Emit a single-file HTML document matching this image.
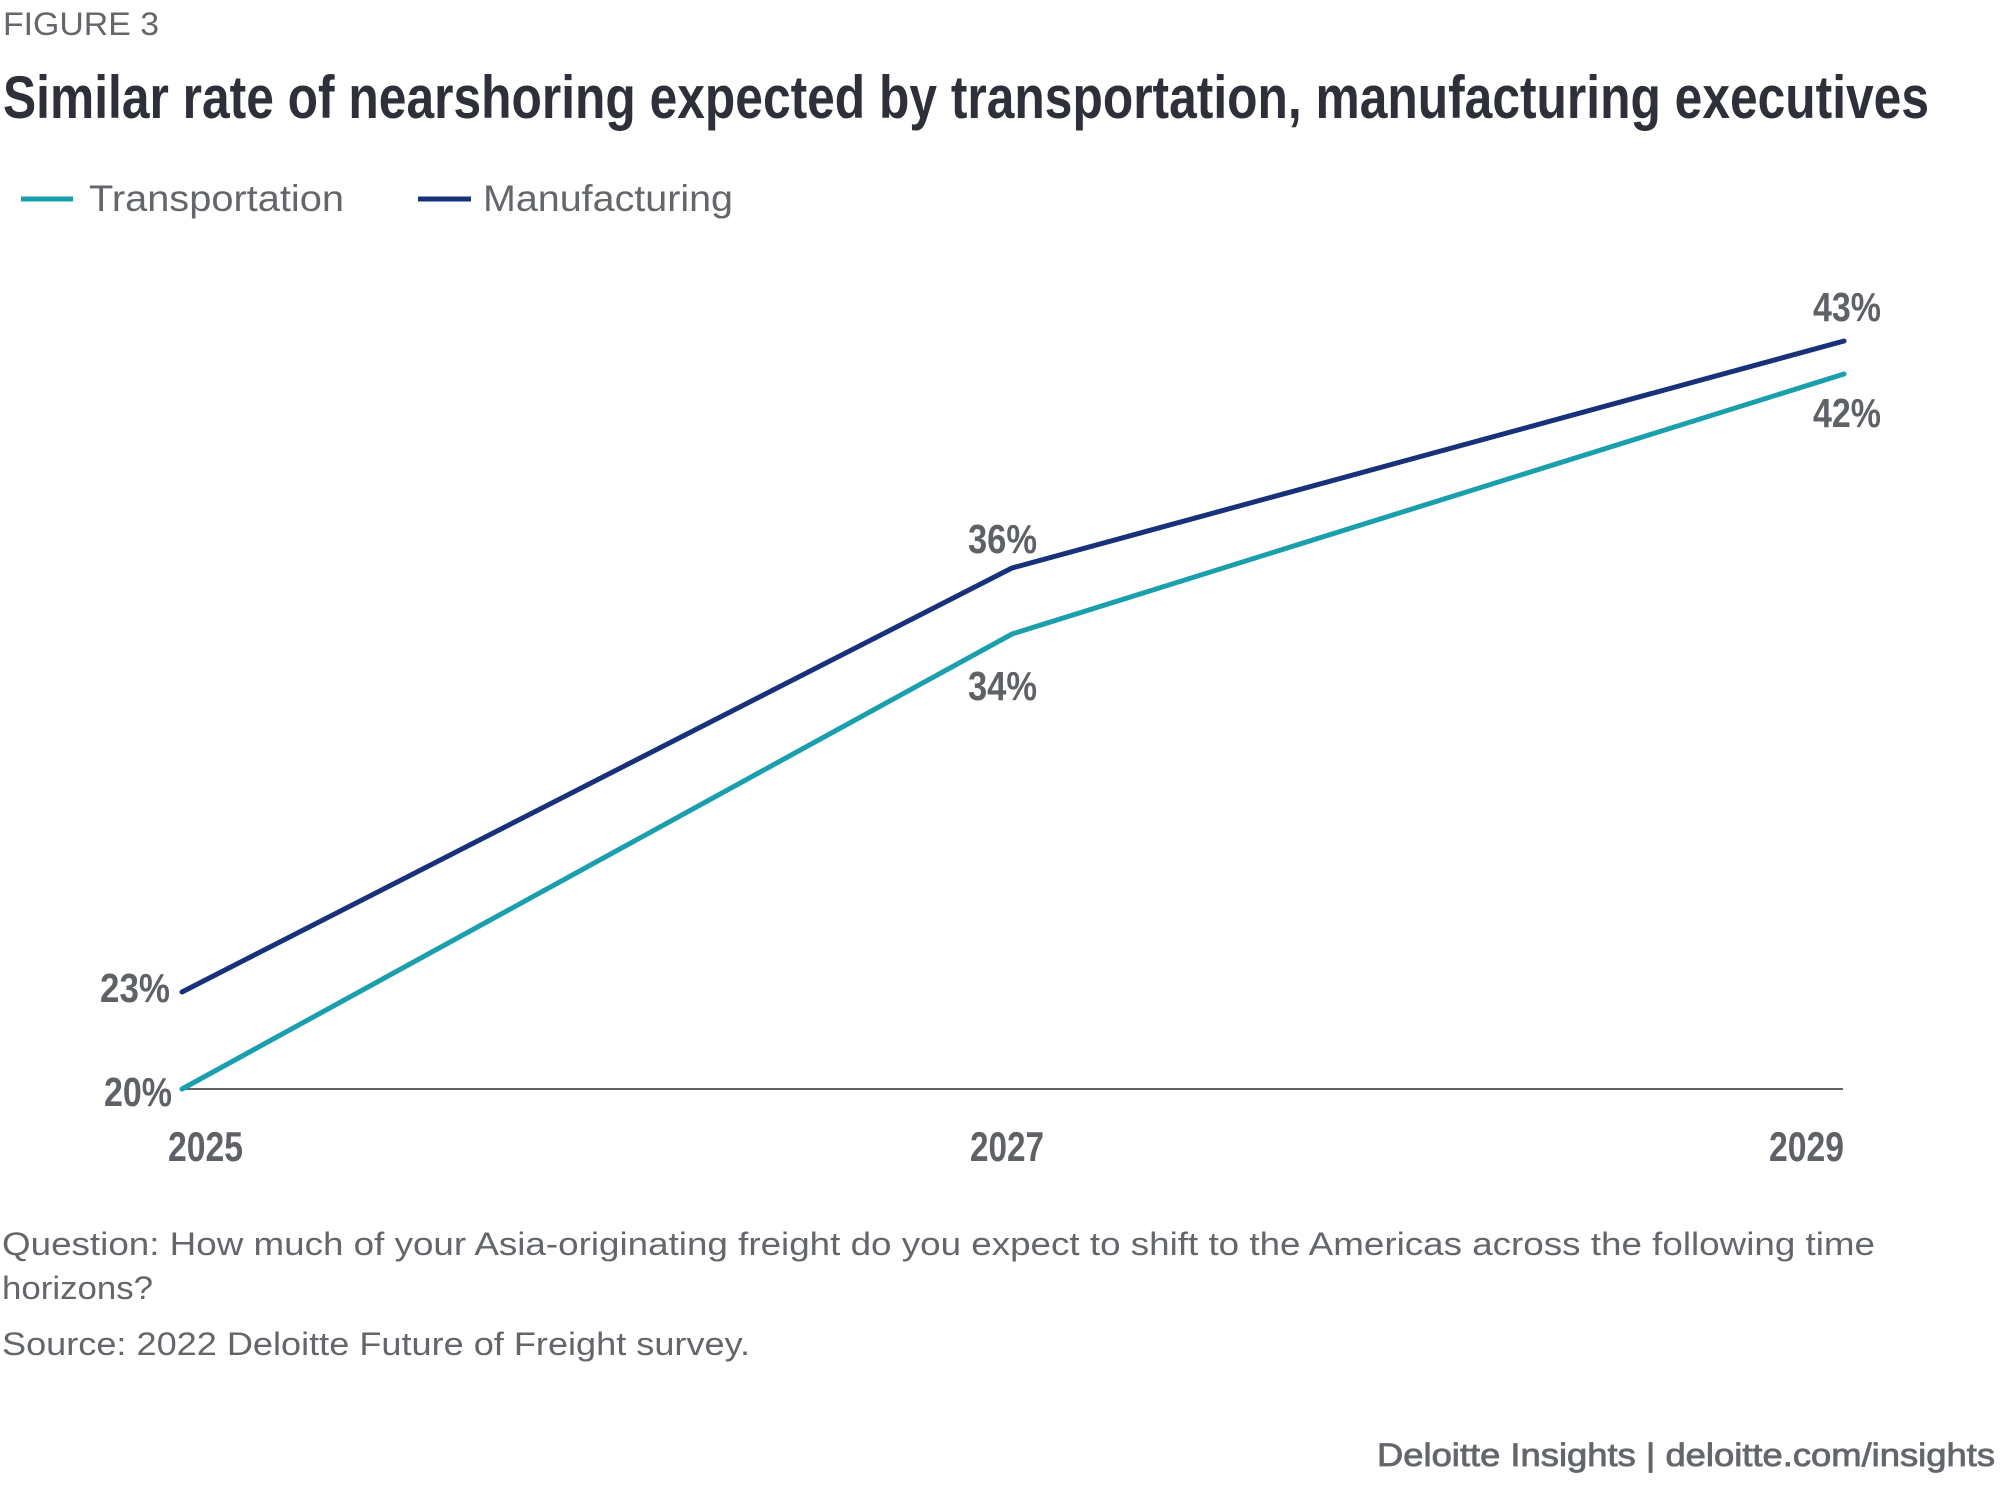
<!DOCTYPE html>
<html>
<head>
<meta charset="utf-8">
<style>
  html,body{margin:0;padding:0;background:#fff;}
  svg{display:block;}
  text{font-family:"Liberation Sans", sans-serif;}
</style>
</head>
<body>
<svg width="2000" height="1495" viewBox="0 0 2000 1495" xmlns="http://www.w3.org/2000/svg">
  <rect x="0" y="0" width="2000" height="1495" fill="#ffffff"/>

  <!-- Header -->
  <text x="3" y="35" font-size="32" fill="#63666a" textLength="156" lengthAdjust="spacingAndGlyphs">FIGURE 3</text>
  <text x="3" y="118" font-size="60" font-weight="bold" fill="#2e3039" textLength="1926" lengthAdjust="spacingAndGlyphs">Similar rate of nearshoring expected by transportation, manufacturing executives</text>

  <!-- Legend -->
  <line x1="21" y1="199" x2="73" y2="199" stroke="#1a9fad" stroke-width="5"/>
  <text x="89" y="211" font-size="37" fill="#63666a" textLength="255" lengthAdjust="spacingAndGlyphs">Transportation</text>
  <line x1="418" y1="199" x2="471" y2="199" stroke="#17317a" stroke-width="5"/>
  <text x="483" y="211" font-size="37" fill="#63666a" textLength="250" lengthAdjust="spacingAndGlyphs">Manufacturing</text>

  <!-- Axis -->
  <line x1="184" y1="1089" x2="1843" y2="1089" stroke="#5f6166" stroke-width="2"/>

  <!-- Series -->
  <polyline points="182,1089 1012,634 1844,374" fill="none" stroke="#1a9fad" stroke-width="5" stroke-linecap="round" stroke-linejoin="round"/>
  <polyline points="182,992 1012,568 1844,341" fill="none" stroke="#17317a" stroke-width="5" stroke-linecap="round" stroke-linejoin="round"/>

  <!-- Value labels -->
  <g font-size="41" font-weight="bold" fill="#5e6166">
    <text x="100" y="1002" textLength="70" lengthAdjust="spacingAndGlyphs">23%</text>
    <text x="104" y="1106" textLength="68" lengthAdjust="spacingAndGlyphs">20%</text>
    <text x="968" y="553" textLength="69" lengthAdjust="spacingAndGlyphs">36%</text>
    <text x="968" y="700" textLength="69" lengthAdjust="spacingAndGlyphs">34%</text>
    <text x="1813" y="321" textLength="68" lengthAdjust="spacingAndGlyphs">43%</text>
    <text x="1813" y="427" textLength="68" lengthAdjust="spacingAndGlyphs">42%</text>
  </g>

  <!-- Year labels -->
  <g font-size="42" font-weight="bold" fill="#5e6166">
    <text x="168" y="1161" textLength="75" lengthAdjust="spacingAndGlyphs">2025</text>
    <text x="970" y="1161" textLength="74" lengthAdjust="spacingAndGlyphs">2027</text>
    <text x="1769" y="1161" textLength="75" lengthAdjust="spacingAndGlyphs">2029</text>
  </g>

  <!-- Footer -->
  <g font-size="32" fill="#63666a">
    <text x="2" y="1255" textLength="1873" lengthAdjust="spacingAndGlyphs">Question: How much of your Asia-originating freight do you expect to shift to the Americas across the following time</text>
    <text x="2" y="1299" textLength="151" lengthAdjust="spacingAndGlyphs">horizons?</text>
    <text x="2" y="1355" textLength="748" lengthAdjust="spacingAndGlyphs">Source: 2022 Deloitte Future of Freight survey.</text>
  </g>
  <text x="1377" y="1466" font-size="32" fill="#63666a" stroke="#63666a" stroke-width="0.8" textLength="618" lengthAdjust="spacingAndGlyphs">Deloitte Insights | deloitte.com/insights</text>
</svg>
</body>
</html>
